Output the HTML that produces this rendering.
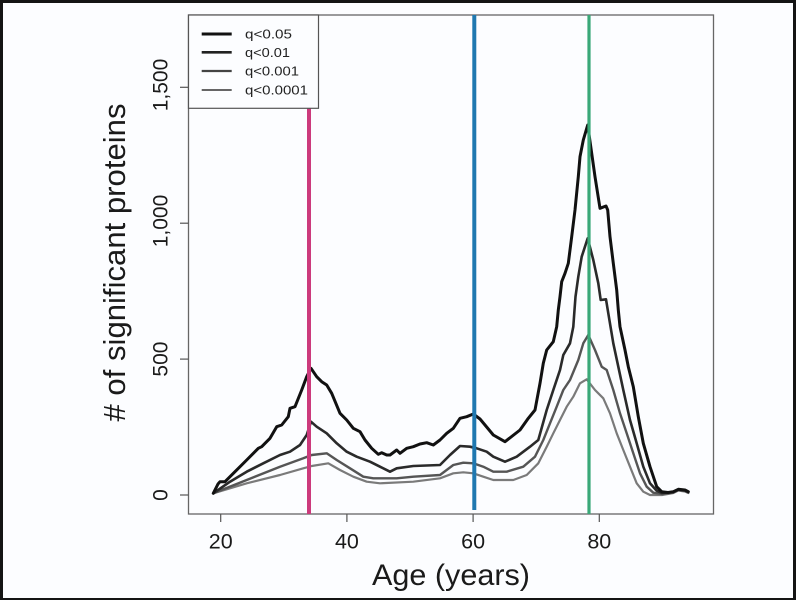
<!DOCTYPE html>
<html>
<head>
<meta charset="utf-8">
<style>
html,body{margin:0;padding:0;background:#111;}
svg{display:block;}
</style>
</head>
<body>
<svg width="796" height="600" viewBox="0 0 796 600" xmlns="http://www.w3.org/2000/svg">
  <rect x="0" y="0" width="796" height="600" fill="#141414"/>
  <rect x="3" y="3" width="790" height="595" fill="#fcfdff"/>

  <!-- plot box -->
  <rect x="188.5" y="15" width="525" height="499" fill="none" stroke="#666" stroke-width="1.3"/>

  <!-- y ticks -->
  <g stroke="#555" stroke-width="1.2">
    <line x1="180" y1="495" x2="188.5" y2="495"/>
    <line x1="180" y1="359.1" x2="188.5" y2="359.1"/>
    <line x1="180" y1="223.2" x2="188.5" y2="223.2"/>
    <line x1="180" y1="87.3" x2="188.5" y2="87.3"/>
  </g>
  <!-- x ticks -->
  <g stroke="#555" stroke-width="1.2">
    <line x1="220.7" y1="514" x2="220.7" y2="522"/>
    <line x1="346.9" y1="514" x2="346.9" y2="522"/>
    <line x1="473.1" y1="514" x2="473.1" y2="522"/>
    <line x1="599.3" y1="514" x2="599.3" y2="522"/>
  </g>

  <g font-family="Liberation Sans, Arial, sans-serif" fill="#1a1a1a">
    <!-- y tick labels -->
    <text font-size="21" text-anchor="middle" transform="translate(167.5,495) rotate(-90)">0</text>
    <text font-size="21" text-anchor="middle" transform="translate(167.5,359.1) rotate(-90)">500</text>
    <text font-size="21" text-anchor="middle" transform="translate(167.5,221) rotate(-90)">1,000</text>
    <text font-size="21" text-anchor="middle" transform="translate(167.5,85) rotate(-90)">1,500</text>
    <!-- x tick labels -->
    <text font-size="21.5" text-anchor="middle" x="220.7" y="548.5">20</text>
    <text font-size="21.5" text-anchor="middle" x="346.9" y="548.5">40</text>
    <text font-size="21.5" text-anchor="middle" x="473.1" y="548.5">60</text>
    <text font-size="21.5" text-anchor="middle" x="599.3" y="548.5">80</text>
    <!-- axis titles -->
    <text font-size="30" text-anchor="middle" x="451" y="585" textLength="158" lengthAdjust="spacingAndGlyphs">Age (years)</text>
    <text font-size="31" text-anchor="middle" transform="translate(125,262.5) rotate(-90)" textLength="318" lengthAdjust="spacingAndGlyphs"># of significant proteins</text>
  </g>

  <!-- series -->
  <g fill="none" stroke-linejoin="round" stroke-linecap="round">
    <polyline stroke="#7a7a7a" stroke-width="2.2" points="213.3,493.3 246.7,483.3 280,475 303.3,468.3 311.7,466 328.3,463.3 340,470 353.3,476.7 366.7,481.7 380,483.3 413.3,481.7 440,478.3 453.3,473.3 463.3,472.3 473.3,473.3 483.3,476.7 493.3,480 513.3,480 526.7,475 538.3,463.3 546.7,446.7 553.3,433.3 560,420 566.7,406.7 573.3,396.7 580,383.3 586.7,379.3 595,390 603.3,398.3 610,413.3 616.7,433.3 623.3,450 630,466.7 636.7,483.3 643.3,491.7 650,495 662,495 673.3,493 678.3,490.5 685,491.5 688.3,493"/>
    <polyline stroke="#555" stroke-width="2.4" points="213.3,493.3 246.7,480 280,466.7 303.3,458.3 311.7,455 326.7,453.3 336.7,460 350,468.3 363.3,476.7 373.3,478.3 396.7,478.3 413.3,476.7 440,475 453.3,465 463.3,462.7 473.3,463.3 483.3,466.7 493.3,471.7 506.7,471.7 523.3,466.7 535,456.7 543.3,440 550,423.3 556.7,406.7 563.3,390 570,380 578.3,360 583.3,343.3 588.3,335 595,350 601.7,366.7 606.7,370 613.3,390 620,413.3 626.7,433.3 633.3,453.3 640,473.3 646.7,486.7 653.3,492.7 662,494 673.3,492.5 678.3,490 685,491 688.3,492.5"/>
    <polyline stroke="#2a2a2a" stroke-width="2.6" points="213.3,493.3 230,481.7 246.7,471.7 263.3,463.3 280,455 290,451.7 300,445 306.7,435 311,421.7 316.7,426.7 326.7,433.3 336.7,443.3 346.7,451.7 356.7,456.7 370,461.7 380,466.7 390,471.7 396.7,468.3 413.3,466 440,465 450,455 460,446 470,446.7 476.7,448.3 486.7,451.7 493.3,456.7 505,461.7 516.7,456.7 530,446.7 538.3,440 546.7,410 553.3,390 560,370 563.3,355 570,343.3 573.3,326.7 574.5,310 575.5,296.7 578.3,276.7 581.7,256.7 587.7,238.3 593.3,260 598.3,283.3 600.7,300 606,299.3 608.3,313.3 613.3,343.3 618.3,366.7 623.3,390 630,420 636.7,443.3 643.3,466.7 650,483.3 656.7,490.7 662,493 673.3,492 678.3,489.5 685,490.5 688.3,492"/>
    <polyline stroke="#111" stroke-width="3" points="213.3,493.3 218,484 220,481.7 225,481.7 235,471.7 246.7,460 258.3,448.3 261.7,446.7 270,438.3 276.7,426.7 281.7,425 288.3,416.7 290,408.3 295,406.7 301.7,390 306.7,376.7 311,368.3 316.7,376.7 321.7,381.7 326.7,385 331.7,393.3 340,413.3 346.7,420 353.3,428.3 360,431.7 365,440 371.7,448.3 378.3,454.3 381.7,452.7 386.7,455 390,455 396.7,450 400,453.3 406.7,448.3 413.3,446.7 420,444 426.7,442.7 433.3,445 440,440 446.7,433.3 453.3,428.3 460,418.3 466.7,416.7 473.3,414 480,419 485,425 493.3,435 505,441.7 520,430 528.3,418.3 535,410 540,383.3 543.3,363.3 546.7,350 553.3,341.7 556.7,326.7 558.3,310 560,296.7 561.7,281.7 565,273.3 568.3,263.3 571.7,236.7 575,210 578.3,176.7 580,156.7 583.3,140 587.7,125 591.7,153.3 595,176.7 600,208.3 606,206 607.7,210 610,236.7 613.3,263.3 616.7,290 618.3,310 620,326.7 625,350 628.3,366.7 633.3,386.7 638.3,416.7 643.3,443.3 650,466.7 656.7,486.7 661.7,491.7 668,492.5 673.3,491.7 678.3,489.3 685,490 688.3,491.7"/>
  </g>

  <!-- vertical reference lines -->
  <line x1="309" y1="108" x2="309" y2="514" stroke="#cc3a7c" stroke-width="4"/>
  <line x1="474.3" y1="15" x2="474.3" y2="510" stroke="#1f78b0" stroke-width="4"/>
  <line x1="589" y1="15" x2="589" y2="514" stroke="#3aa878" stroke-width="3.2"/>

  <!-- legend -->
  <rect x="188.5" y="15" width="130" height="93.3" fill="#fcfdff" stroke="#555" stroke-width="1.2"/>
  <line x1="201.7" y1="34" x2="231.7" y2="34" stroke="#111" stroke-width="3"/>
  <line x1="201.7" y1="52.3" x2="231.7" y2="52.3" stroke="#222" stroke-width="2.6"/>
  <line x1="201.7" y1="71" x2="231.7" y2="71" stroke="#444" stroke-width="2.2"/>
  <line x1="201.7" y1="90" x2="231.7" y2="90" stroke="#666" stroke-width="1.9"/>
  <g font-family="Liberation Sans, Arial, sans-serif" font-size="12.5" fill="#222">
    <text x="245" y="38.5" textLength="47" lengthAdjust="spacingAndGlyphs">q&lt;0.05</text>
    <text x="245" y="57" textLength="45" lengthAdjust="spacingAndGlyphs">q&lt;0.01</text>
    <text x="245" y="75.5" textLength="54" lengthAdjust="spacingAndGlyphs">q&lt;0.001</text>
    <text x="245" y="94.5" textLength="63" lengthAdjust="spacingAndGlyphs">q&lt;0.0001</text>
  </g>
</svg>
</body>
</html>
